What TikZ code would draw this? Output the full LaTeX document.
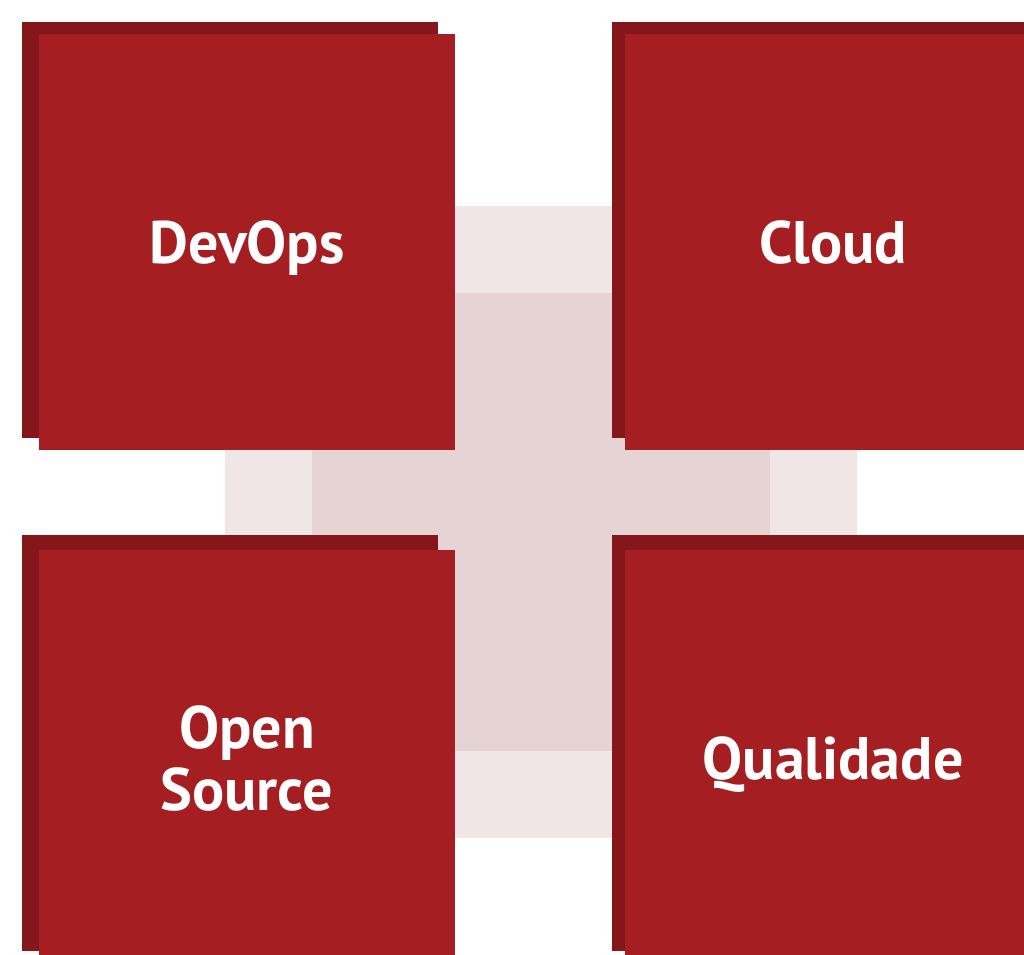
\documentclass[tikz,border=0pt]{standalone}
\usepackage{fontspec}
\setmainfont{PT Sans}
\usetikzlibrary{positioning}
\definecolor{tilered}{HTML}{A51E22}
\definecolor{tileshade}{HTML}{85171B}
\definecolor{crosslight}{HTML}{F0E6E6}
\definecolor{crossdark}{HTML}{E6D3D3}
\tikzset{tile/.style = {fill = tilered, minimum size = 312pt, inner sep = 0,
                        text = white, font = \bfseries\fontsize{45}{47}\selectfont,
                        text height = 32pt, text depth = 0pt, align = center}}
\tikzset{shade/.style = {fill = tileshade}}

\begin{document}
\begin{tikzpicture}[x = 0.75pt, y = -0.75pt]
      \useasboundingbox (0, 0) rectangle (1024, 954);
      \clip (0, 0) rectangle (1024, 954);
      % pale squares behind the tiles
      \fill [crosslight] (225, 206) rectangle (857, 838);
      \fill [crossdark] (312, 293) rectangle (770, 751);
      % shaded backs
      \fill [shade] (22, 22) rectangle (438, 438);
      \fill [shade] (612, 22) rectangle (1028, 438);
      \fill [shade] (22, 535) rectangle (438, 951);
      \fill [shade] (612, 535) rectangle (1028, 951);
      % tiles
      \node [tile] (devops) at (247, 242) {DevOps};
      \node [tile] (cloud) at (833, 242) {Cloud};
      \node [tile, text height = 79pt] (opensource) at (247, 758) {Open\\Source};
      \node [tile] (qualidade) at (833, 758) {Qualidade};
    \end{tikzpicture}
\end{document}
